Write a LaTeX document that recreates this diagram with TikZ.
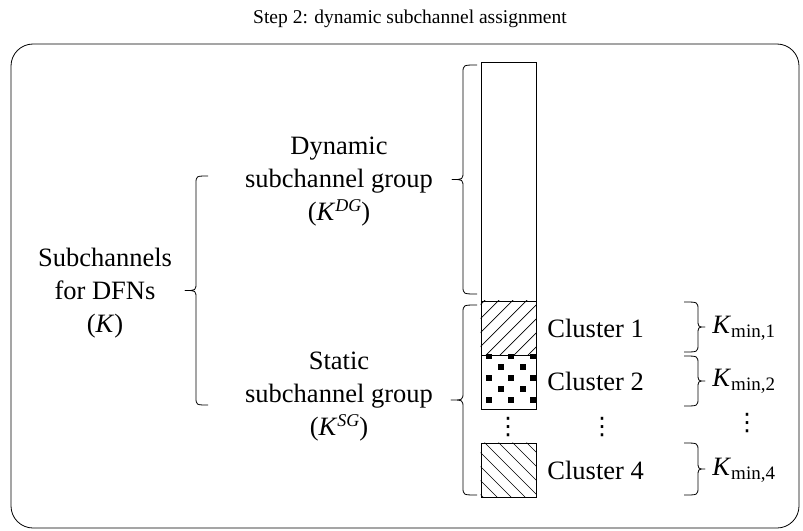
\documentclass[tikz,border=0pt]{standalone}
\usepackage{fontspec}
\setmainfont{Liberation Serif}
\newfontfamily\symfont{DejaVu Sans}
\usetikzlibrary{calc}
% brace drawn as a path: #1 top y, #2 bottom y, #3 end x, #4 spine x, #5 tip x, #6 corner size
\newcommand\BrcL[6]{%
  \draw[brc] (#3,#1) .. controls (#4,#1) .. (#4,#1+#6)
    -- (#4,{(#1+#2)/2-#6}) .. controls (#4,{(#1+#2)/2}) .. (#5,{(#1+#2)/2})
    .. controls (#4,{(#1+#2)/2}) .. (#4,{(#1+#2)/2+#6})
    -- (#4,#2-#6) .. controls (#4,#2) .. (#3,#2);}
\begin{document}
\begin{tikzpicture}[x=1pt,y=-1pt,line width=0.8pt,
  lbl/.style={font=\fontsize{26.5}{33}\selectfont,align=center,inner sep=0pt},
  ttl/.style={font=\fontsize{19.5}{23}\selectfont,inner sep=0pt},
  dts/.style={font=\symfont\fontsize{24}{24}\selectfont,inner sep=0pt},
  blk/.style={draw,minimum width=55pt,inner sep=0pt},
  brc/.style={line width=0.8pt,line join=round},
  hatch/.style={line width=0.7pt}]
\useasboundingbox (0,0) rectangle (803,530);

% title and outer frame
\node[ttl] (title) at (410,19) {Step 2: dynamic subchannel assignment};
\draw[rounded corners=22pt] (11,44) rectangle (799,528);

% subchannel column
\node[blk,minimum height=239pt] (dynblk) at (508.5,181.5) {};
\node[blk,minimum height=54pt] (cl1) at (508.5,328) {};
\node[blk,minimum height=54pt] (cl2) at (508.5,382) {};
\node[blk,minimum height=54pt] (cl4) at (508.5,470) {};

% cluster 1: rising hatch
\begin{scope}
  \clip (cl1.south west) rectangle (cl1.north east);
  \foreach \i in {-5,...,5}
    \draw[hatch] ($(cl1.south west)+(\i*14+5,0)$) -- ++(70,-70);
\end{scope}
% cluster 2: staggered square dots
\begin{scope}
  \clip (cl2.south west) rectangle (cl2.north east);
  \foreach \px/\py in {8/1,30/1,52/1,20/12,42/12,8/23,30/23,52/23,20/34,42/34,8/45,30/45,52/45}
    \fill ($(cl2.north west)+(\px-3,\py-3)$) rectangle ++(6,6);
\end{scope}
% cluster 4: falling hatch
\begin{scope}
  \clip (cl4.south west) rectangle (cl4.north east);
  \foreach \i in {-5,...,5}
    \draw[hatch] ($(cl4.north west)+(\i*14+4,0)$) -- ++(70,70);
\end{scope}

% group labels
\node[lbl] (dyntxt) at (339,182) {Dynamic\\subchannel group\\(\textit{K}\raisebox{9pt}{\fontsize{18}{18}\selectfont\textit{DG}})};
\node[lbl] (sttxt) at (339,397) {Static\\subchannel group\\(\textit{K}\raisebox{9pt}{\fontsize{18}{18}\selectfont\textit{SG}})};
\node[lbl] (alltxt) at (105,293) {Subchannels\\for DFNs\\(\textit{K})};

% cluster labels
\node[lbl,anchor=west] (c1txt) at (547,328) {Cluster 1};
\node[lbl,anchor=west] (c2txt) at (547,381) {Cluster 2};
\node[lbl,anchor=west] (c4txt) at (547,470) {Cluster 4};

% minimum sizes
\node[lbl,anchor=west] (k1) at (712,328) {\textit{K}\raisebox{-4pt}{\fontsize{19}{19}\selectfont min,1}};
\node[lbl,anchor=west] (k2) at (712,381) {\textit{K}\raisebox{-4pt}{\fontsize{19}{19}\selectfont min,2}};
\node[lbl,anchor=west] (k4) at (712,470) {\textit{K}\raisebox{-4pt}{\fontsize{19}{19}\selectfont min,4}};

% ellipses
\node[dts] (d1) at (508,427) {⋮};
\node[dts] (d2) at (602,427) {⋮};
\node[dts] (d3) at (747,423) {⋮};

% braces on the left
\BrcL{65}{294}{477}{463}{452}{8}
\BrcL{305}{495}{477}{463}{451}{8}
\BrcL{176}{405}{208}{196}{185}{8}
% braces on the right
\BrcL{302}{352}{684}{698}{705}{8}
\BrcL{356}{406}{684}{698}{705}{8}
\BrcL{443}{495}{684}{698}{705}{8}
\end{tikzpicture}
\end{document}
